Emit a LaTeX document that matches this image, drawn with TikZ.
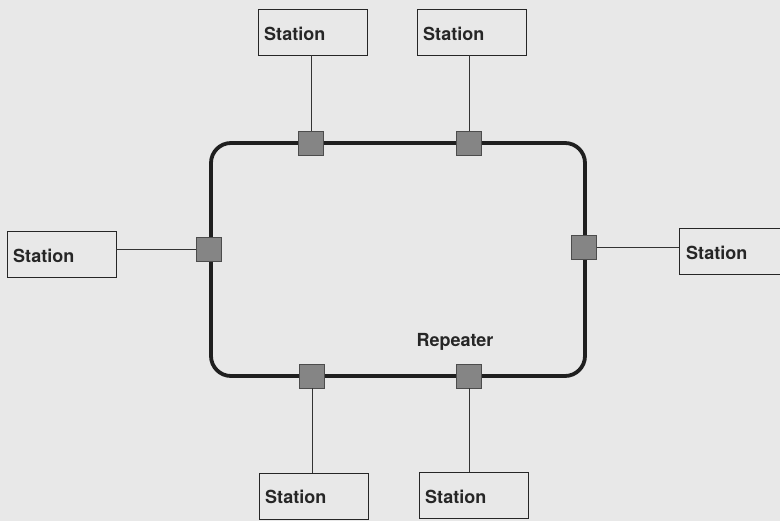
\documentclass[tikz,border=0pt]{standalone}
\usepackage{fontspec}
\setmainfont{TeX Gyre Heros}
\begin{document}
\begin{tikzpicture}[x=1pt,y=-1pt,
  station/.style={draw=black!85,line width=0.9pt,minimum width=109pt,minimum height=46pt,inner sep=0pt},
  stext/.style={anchor=west,inner sep=0pt,font=\bfseries\fontsize{18}{20}\selectfont,text=black!85},
  rep/.style={draw=black!70,fill=black!48,line width=0.8pt,minimum width=25pt,minimum height=24pt,inner sep=0pt},
  ring/.style={line width=3.8pt,black!88},
  link/.style={line width=0.8pt,black!80}]
\fill[black!9] (0,0) rectangle (780,521);
\useasboundingbox (0,0) rectangle (780,521);
% ring
\draw[ring,rounded corners=20pt] (211,143) rectangle (585,376);
% repeaters
\node[rep] (r1) at (311,143) {};
\node[rep] (r2) at (469,143) {};
\node[rep] (r3) at (209,249) {};
\node[rep] (r4) at (584,247) {};
\node[rep] (r5) at (312,376) {};
\node[rep] (r6) at (469,376) {};
% stations
\node[station] (s1) at (312.5,32) {};
\node[stext] (t1) at (264,34) {Station};
\node[station] (s2) at (471.5,32) {};
\node[stext] (t2) at (423,34) {Station};
\node[station] (s3) at (61.5,254) {};
\node[stext] (t3) at (13,256) {Station};
\node[station] (s4) at (733.5,251.5) {};
\node[stext] (t4) at (686,253) {Station};
\node[station] (s5) at (313.5,496) {};
\node[stext] (t5) at (265,497) {Station};
\node[station] (s6) at (473.5,495) {};
\node[stext] (t6) at (425,497) {Station};
% label
\node[font=\bfseries\fontsize{18}{20}\selectfont,text=black!85,inner sep=0pt] (lab) at (455,342) {Repeater};
% links
\draw[link] (r1.north) -- (r1.north |- s1.south);
\draw[link] (r2.north) -- (r2.north |- s2.south);
\draw[link] (r3.west) -- (r3.west -| s3.east);
\draw[link] (r4.east) -- (r4.east -| s4.west);
\draw[link] (r5.south) -- (r5.south |- s5.north);
\draw[link] (r6.south) -- (r6.south |- s6.north);
\end{tikzpicture}
\end{document}
